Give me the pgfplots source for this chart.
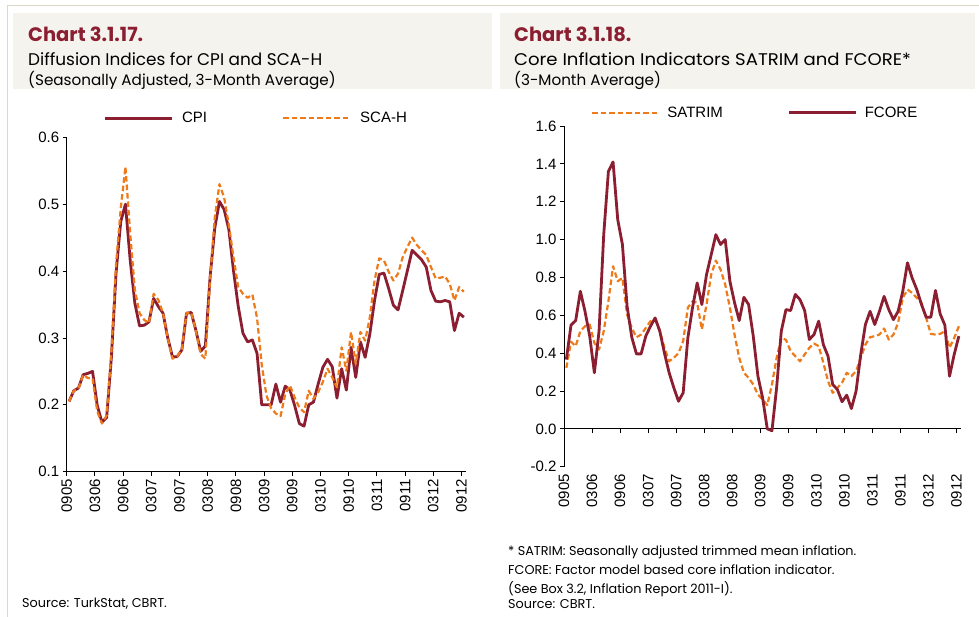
\documentclass[border=0pt]{standalone}
\usepackage{pgfplots}
\usepackage{pgfplotstable}
\pgfplotsset{compat=1.18}
\usepackage{fontspec}
\setmainfont{Poppins}
\newfontfamily\arial{Liberation Sans}
\definecolor{dred}{RGB}{139,30,48}
\definecolor{ora}{RGB}{238,122,26}
\definecolor{band}{RGB}{245,243,238}
\definecolor{frame}{RGB}{222,214,198}

\pgfplotstableread{
k cpi sca
0 0.205 0.205
1 0.221 0.221
2 0.225 0.224
3 0.245 0.245
4 0.247 0.240
5 0.250 0.240
6 0.199 0.190
7 0.174 0.172
8 0.181 0.184
9 0.270 0.277
10 0.397 0.410
11 0.474 0.494
12 0.500 0.556
13 0.417 0.457
14 0.352 0.372
15 0.318 0.337
16 0.319 0.327
17 0.324 0.322
18 0.359 0.366
19 0.347 0.357
20 0.337 0.337
21 0.300 0.300
22 0.272 0.269
23 0.272 0.272
24 0.282 0.283
25 0.337 0.337
26 0.338 0.338
27 0.311 0.310
28 0.280 0.276
29 0.288 0.269
30 0.390 0.387
31 0.464 0.480
32 0.504 0.530
33 0.492 0.510
34 0.462 0.469
35 0.400 0.420
36 0.347 0.376
37 0.307 0.366
38 0.294 0.360
39 0.297 0.365
40 0.277 0.330
41 0.200 0.260
42 0.200 0.214
43 0.200 0.195
44 0.231 0.187
45 0.204 0.183
46 0.228 0.216
47 0.222 0.229
48 0.199 0.211
49 0.172 0.196
50 0.168 0.189
51 0.200 0.221
52 0.204 0.209
53 0.231 0.219
54 0.256 0.234
55 0.268 0.254
56 0.257 0.241
57 0.210 0.226
58 0.254 0.286
59 0.222 0.251
60 0.286 0.309
61 0.241 0.261
62 0.294 0.309
63 0.271 0.296
64 0.306 0.331
65 0.356 0.386
66 0.395 0.419
67 0.397 0.416
68 0.374 0.399
69 0.349 0.386
70 0.342 0.396
71 0.371 0.421
72 0.401 0.436
73 0.431 0.450
74 0.424 0.439
75 0.417 0.431
76 0.406 0.424
77 0.371 0.406
78 0.355 0.389
79 0.354 0.390
80 0.356 0.392
81 0.354 0.381
82 0.311 0.356
83 0.337 0.376
84 0.331 0.369
}\leftdata

\pgfplotstableread{
k satrim fcore
0 0.322 0.366
1 0.460 0.548
2 0.437 0.572
3 0.516 0.727
4 0.542 0.620
5 0.551 0.490
6 0.454 0.296
7 0.419 0.516
8 0.516 1.026
9 0.674 1.360
10 0.859 1.410
11 0.780 1.105
12 0.797 0.974
13 0.604 0.648
14 0.533 0.484
15 0.484 0.396
16 0.498 0.396
17 0.533 0.490
18 0.569 0.542
19 0.577 0.586
20 0.516 0.516
21 0.428 0.400
22 0.357 0.296
23 0.375 0.217
24 0.400 0.146
25 0.463 0.190
26 0.640 0.480
27 0.674 0.640
28 0.666 0.771
29 0.525 0.657
30 0.657 0.815
31 0.815 0.920
32 0.889 1.026
33 0.842 0.974
34 0.762 1.000
35 0.640 0.780
36 0.498 0.666
37 0.375 0.572
38 0.296 0.695
39 0.270 0.657
40 0.234 0.490
41 0.181 0.278
42 0.155 0.164
43 0.125 0.000
44 0.234 -0.010
45 0.375 0.217
46 0.480 0.516
47 0.470 0.630
48 0.410 0.625
49 0.384 0.710
50 0.357 0.683
51 0.393 0.625
52 0.428 0.472
53 0.451 0.498
54 0.437 0.569
55 0.349 0.445
56 0.252 0.384
57 0.190 0.234
58 0.217 0.208
59 0.243 0.143
60 0.296 0.178
61 0.278 0.107
62 0.305 0.199
63 0.375 0.393
64 0.445 0.551
65 0.484 0.621
66 0.490 0.551
67 0.498 0.621
68 0.530 0.700
69 0.472 0.630
70 0.498 0.577
71 0.560 0.621
72 0.692 0.727
73 0.736 0.877
74 0.718 0.797
75 0.692 0.736
76 0.666 0.657
77 0.586 0.590
78 0.502 0.590
79 0.498 0.731
80 0.502 0.607
81 0.516 0.548
82 0.428 0.278
83 0.480 0.393
84 0.542 0.490
}\rightdata

\pgfplotsset{
  excelstyle/.style={
    scale only axis,
    anchor=south west,
    xmin=0, xmax=85,
    axis y line*=left,
    axis x line*=bottom,
    axis line style={line width=0.8pt, black},
    tick style={line width=0.8pt, black},
    tick align=outside,
    major tick length=4pt,
    xtick={0,6,12,18,24,30,36,42,48,54,60,66,72,78,84},
    xticklabels={0905,0306,0906,0307,0907,0308,0908,0309,0909,0310,0910,0311,0911,0312,0912},
    x tick label style={rotate=90, anchor=east},
    tick label style={font=\arial\fontsize{15}{17}\selectfont},
    yticklabel style={/pgf/number format/.cd, fixed, fixed zerofill, precision=1, assume math mode=true},
    legend columns=2,
    legend image code/.code={\draw[#1] (0pt,0pt) -- (67pt,0pt);},
    cpiline/.style={dred, line width=2.8pt, line join=round},
    scaline/.style={ora, line width=2.2pt, dash pattern=on 5.5pt off 3pt, line join=round},
  }
}

\begin{document}
\begin{tikzpicture}
\useasboundingbox (0,0) rectangle (979pt,617pt);
\fill[white] (0,0) rectangle (979pt,617pt);
\draw[frame, line width=1pt] (7pt,0pt) -- (7pt,611pt) -- (979pt,611pt);
\fill[band] (13pt,528pt) rectangle (492pt,604pt);
\fill[band] (500pt,528pt) rectangle (975pt,604pt);

\node[anchor=base west, inner sep=0pt, text=dred, font=\bfseries\fontsize{19.5}{22}\selectfont] at (28pt,575.3pt) {Chart 3.1.17.};
\node[anchor=base west, inner sep=0pt, font=\fontsize{16.9}{19}\selectfont] at (28pt,551.3pt) {Diffusion Indices for CPI and SCA-H};
\node[anchor=base west, inner sep=0pt, font=\fontsize{15.2}{17}\selectfont] at (28pt,531pt) {(Seasonally Adjusted, 3-Month Average)};

\node[anchor=base west, inner sep=0pt, text=dred, font=\bfseries\fontsize{19.5}{22}\selectfont] at (514pt,575.3pt) {Chart 3.1.18.};
\node[anchor=base west, inner sep=0pt, font=\fontsize{16.9}{19}\selectfont] at (514pt,551.3pt) {\scalebox{1.07}[1]{Core Inflation Indicators SATRIM and FCORE*}};
\node[anchor=base west, inner sep=0pt, font=\fontsize{15.2}{17}\selectfont] at (514pt,531pt) {(3-Month Average)};

\node[anchor=base west, inner sep=0pt, font=\fontsize{12.8}{15}\selectfont] at (22pt,9pt) {Source: TurkStat, CBRT.};
\node[anchor=base west, inner sep=0pt, font=\fontsize{12.8}{15}\selectfont] at (508pt,61pt) {* SATRIM: Seasonally adjusted trimmed mean inflation.};
\node[anchor=base west, inner sep=0pt, font=\fontsize{12.8}{15}\selectfont] at (508pt,42pt) {FCORE: Factor model based core inflation indicator.};
\node[anchor=base west, inner sep=0pt, font=\fontsize{12.8}{15}\selectfont] at (508pt,23pt) {(See Box 3.2, Inflation Report 2011-I).};
\node[anchor=base west, inner sep=0pt, font=\fontsize{12.8}{15}\selectfont] at (508pt,8pt) {Source: CBRT.};

\begin{axis}[excelstyle,
  at={(66.7pt,145.3pt)}, width=399.5pt, height=334.4pt,
  ymin=0.1, ymax=0.6, ytick={0.1,0.2,0.3,0.4,0.5,0.6},
  legend style={at={(0.0909,1.0568)}, anchor=west, draw=none, fill=none, inner sep=0pt,
    nodes={inner sep=0pt}, font=\arial\fontsize{15}{17}\selectfont,
    /tikz/every odd column/.append style={column sep=9pt},
    /tikz/every even column/.append style={column sep=75pt}},
]
\addplot[cpiline] table[x expr=\thisrow{k}+0.5, y=cpi] {\leftdata};
\addlegendentry{CPI}
\addplot[scaline] table[x expr=\thisrow{k}+0.5, y=sca] {\leftdata};
\addlegendentry{SCA-H}
\end{axis}

\begin{axis}[excelstyle,
  at={(564pt,150.3pt)}, width=397.2pt, height=340.7pt,
  ymin=-0.2, ymax=1.6, ytick={-0.2,0,0.2,0.4,0.6,0.8,1.0,1.2,1.4,1.6},
  x axis line style={draw=none},
  xtick style={draw=none},
  legend style={at={(0.068,1.039)}, anchor=west, draw=none, fill=none, inner sep=0pt,
    nodes={inner sep=0pt}, font=\arial\fontsize{15}{17}\selectfont,
    /tikz/every odd column/.append style={column sep=7pt},
    /tikz/every even column/.append style={column sep=65pt}},
]
\draw[line width=0.8pt, black] (axis cs:0,0) -- (axis cs:85,0);
\pgfplotsinvokeforeach{0,6,12,18,24,30,36,42,48,54,60,66,72,78,84}{
  \draw[line width=0.8pt, black] (axis cs:#1,0) -- ++(0pt,-4pt);
}
\addplot[scaline] table[x expr=\thisrow{k}+0.5, y=satrim] {\rightdata};
\addlegendentry{SATRIM}
\addplot[cpiline] table[x expr=\thisrow{k}+0.5, y=fcore] {\rightdata};
\addlegendentry{FCORE}
\end{axis}
\end{tikzpicture}
\end{document}
